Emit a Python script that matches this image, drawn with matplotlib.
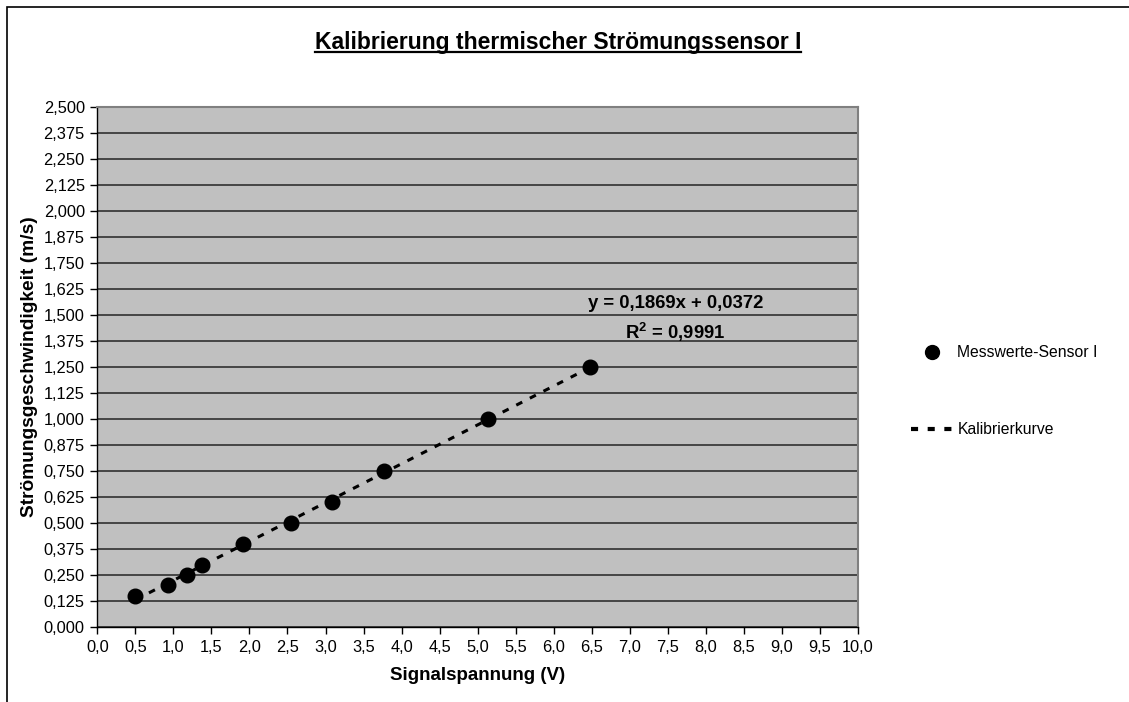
import numpy as np
import matplotlib
matplotlib.use("Agg")
import matplotlib.pyplot as plt
from matplotlib.ticker import FuncFormatter, MultipleLocator
from matplotlib.lines import Line2D
from matplotlib.patches import Rectangle

plt.rcParams['font.family'] = ['Liberation Sans', 'DejaVu Sans']
plt.rcParams['mathtext.fontset'] = 'custom'
plt.rcParams['mathtext.bf'] = 'Liberation Sans:bold'
plt.rcParams['mathtext.rm'] = 'Liberation Sans'

# Messwerte
signal_v = [0.50, 0.93, 1.18, 1.37, 1.91, 2.55, 3.09, 3.77, 5.13, 6.48]
speed_ms = [0.15, 0.20, 0.25, 0.30, 0.40, 0.50, 0.60, 0.75, 1.00, 1.25]

# Lineare Kalibrierkurve
slope = 0.1869
intercept = 0.0372
r_squared = 0.9991

title = "Kalibrierung thermischer Strömungssensor I"
xlabel = "Signalspannung (V)"
ylabel = "Strömungsgeschwindigkeit (m/s)"
series_label = "Messwerte-Sensor I"
fit_label = "Kalibrierkurve"

W, H = 1129, 702
fig = plt.figure(figsize=(W / 100, H / 100), dpi=100)
fig.patch.set_facecolor('white')

# äußerer Diagrammrahmen
fig.add_artist(Rectangle((7 / W, -0.05), 1.2, (H - 7) / H + 0.05, transform=fig.transFigure,
                         fill=False, edgecolor='black', linewidth=1.2))

left, right = 97.3 / W, 858 / W
bottom, top = (H - 627) / H, (H - 107) / H
ax = fig.add_axes([left, bottom, right - left, top - bottom])
ax.set_facecolor('#c0c0c0')
ax.set_xlim(0, 10)
ax.set_ylim(0, 2.5)

ax.xaxis.set_major_locator(MultipleLocator(0.5))
ax.yaxis.set_major_locator(MultipleLocator(0.125))
ax.xaxis.set_major_formatter(FuncFormatter(lambda v, p: f"{v:.1f}".replace('.', ',')))
ax.yaxis.set_major_formatter(FuncFormatter(lambda v, p: f"{v:.3f}".replace('.', ',')))
ax.tick_params(axis='both', direction='out', length=5, width=1, color='black',
               labelsize=11.8, labelcolor='black', pad=4)

ax.grid(axis='y', color='#3c3c3c', linewidth=1.3)
ax.set_axisbelow(True)
for s in ('top', 'right'):
    ax.spines[s].set_color('#808080')
    ax.spines[s].set_linewidth(1.5)
for s in ('left', 'bottom'):
    ax.spines[s].set_color('black')
    ax.spines[s].set_linewidth(1.0)

# Kalibriergerade über den Messbereich
xs = np.array([min(signal_v), max(signal_v)])
ax.plot(xs, slope * xs + intercept, color='black', linewidth=2.2,
        linestyle=(0, (2.2, 2.8)), zorder=3)
ax.plot(signal_v, speed_ms, linestyle='none', marker='o', markersize=10.5,
        color='black', zorder=4)

eq = f"y = {slope:.4f}x + {intercept:.4f}".replace('.', ',')
r2 = r"R$^{\mathbf{2}}$ = " + f"{r_squared:.4f}".replace('.', ',')
ax.text(7.6, 1.553, eq, ha='center', va='center', fontsize=13.3, fontweight='bold')
ax.text(7.6, 1.418, r2, ha='center', va='center', fontsize=13.3, fontweight='bold')

fig.text((97.3 + 858) / 2 / W, (H - 676) / H, xlabel, ha='center', va='center',
         fontsize=13.5, fontweight='bold')
fig.text(30 / W, (H - 367) / H, ylabel, ha='center', va='center', rotation=90,
         fontsize=13.8, fontweight='bold')

# Titel mit Unterstreichung
t = fig.text(558 / W, (H - 42) / H, title, ha='center', va='center',
             fontsize=16.5, fontweight='bold')
fig.canvas.draw()
bb = t.get_window_extent(fig.canvas.get_renderer())
uy = (H - 52) / H
fig.add_artist(Line2D([bb.x0 / W, bb.x1 / W], [uy, uy], transform=fig.transFigure,
                      color='black', linewidth=1.6))

handles = [
    Line2D([], [], linestyle='none', marker='o', markersize=10, color='black'),
    Line2D([], [], color='black', linewidth=3, linestyle=(0, (1.7, 2.3))),
]
fig.legend(handles, [series_label, fit_label], loc='center left',
           bbox_to_anchor=(911 / W, (H - 391) / H), frameon=False, fontsize=11.3,
           handlelength=2.65, handletextpad=0.3, labelspacing=3.95,
           borderpad=0, borderaxespad=0)

fig.savefig("out.png", dpi=100)
